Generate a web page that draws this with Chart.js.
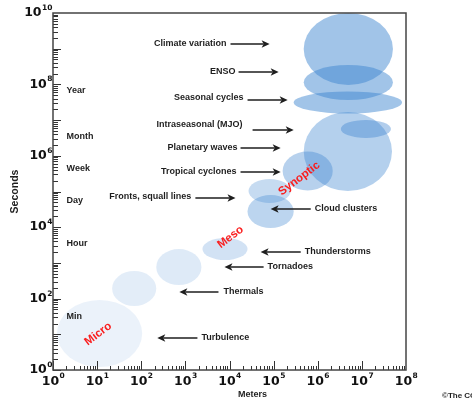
<!DOCTYPE html>
<html><head><meta charset="utf-8">
<script src="https://cdn.jsdelivr.net/npm/chart.js@4/dist/chart.umd.min.js"></script>
<style>html,body{margin:0;padding:0;background:#fff;overflow:hidden}#wrap{width:472px;height:403px}</style>
</head><body><div id="wrap"><canvas id="c" width="472" height="403"></canvas></div>
<script>
// ---- Data: space (meters) and time (seconds) ranges of each phenomenon ----
const phenomena   = ['Turbulence','Small eddies','Thermals','Thunderstorms','Fronts, squall lines','Cloud clusters','Tropical cyclones','Planetary waves','Intraseasonal (MJO)','Seasonal cycles','ENSO','Climate variation'];
const metersMin   = [1.23, 21.9, 219, 2440, 27000, 25600, 160000, 481000, 3330000, 285000, 481000, 481000];
const metersMax   = [105, 219, 2310, 25600, 243000, 285000, 2190000, 48100000, 45600000, 81100000, 50600000, 50600000];
const secondsMin  = [1.21, 62.1, 240, 1200, 47600, 9500, 107000, 103000, 3160000, 15300000, 36600000, 96400000];
const secondsMax  = [91.2, 593, 2450, 4980, 224000, 79800, 1320000, 16800000, 10100000, 63200000, 349000000, 1e10];
const fillAlpha   = [0.10, 0.14, 0.17, 0.23, 0.29, 0.34, 0.37, 0.38, 0.40, 0.48, 0.48, 0.48];

// tick labels (exponents of 10)
const xTickExp = [0,1,2,3,4,5,6,7,8];
const yTickExp = [0,2,4,6,8,10];

// annotations (log10 positions)
const annLabels  = ['Climate variation','ENSO','Seasonal cycles','Intraseasonal (MJO)','Planetary waves','Tropical cyclones','Fronts, squall lines','Cloud clusters','Thunderstorms','Tornadoes','Thermals','Turbulence'];
const annTextX   = [3.932, 4.136, 4.318, 4.295, 4.182, 4.159, 3.136, 5.932, 5.705, 4.864, 3.864, 3.364];
const annTextY   = [9.132, 8.347, 7.619, 6.863, 6.246, 5.546, 4.846, 4.510, 3.305, 2.885, 2.185, 0.896];
const annTailX   = [4.023, 4.205, 4.409, 4.523, 4.250, 4.250, 3.227, 5.841, 5.614, 4.773, 3.750, 3.273];
const annHeadX   = [4.909, 5.114, 5.318, 5.455, 5.159, 5.159, 4.136, 4.932, 4.705, 3.886, 2.864, 2.364];
const annArrowY  = [9.132, 8.347, 7.563, 6.723, 6.218, 5.546, 4.818, 4.510, 3.305, 2.885, 2.185, 0.896];

// time-unit labels
const timeLabels = ['Year','Month','Week','Day','Hour','Min'];
const timeLogY   = [7.84, 6.535, 5.63, 4.734, 3.53, 1.485];
const timeLogX   = 0.307;

// regime labels
const regimeLabels = ['Micro','Meso','Synoptic'];
const regimeLogX   = [1.023, 4.023, 5.58];
const regimeLogY   = [1.008, 3.725, 5.364];

const BASE = '59,131,207';
const TXT = '#1e1e1e';

const ellipsePlugin = {
  id: 'ellipses',
  beforeDatasetsDraw(chart) {
    const {ctx, chartArea: a, scales: {x, y}} = chart;
    ctx.save();
    ctx.beginPath(); ctx.rect(a.left, a.top, a.right - a.left, a.bottom - a.top); ctx.clip();
    for (let i = 0; i < phenomena.length; i++) {
      const x0 = x.getPixelForValue(metersMin[i]), x1 = x.getPixelForValue(metersMax[i]);
      const y0 = y.getPixelForValue(secondsMin[i]), y1 = y.getPixelForValue(secondsMax[i]);
      ctx.beginPath();
      ctx.ellipse((x0 + x1) / 2, (y0 + y1) / 2, Math.abs(x1 - x0) / 2, Math.abs(y1 - y0) / 2, 0, 0, Math.PI * 2);
      ctx.fillStyle = `rgba(${BASE},${fillAlpha[i]})`;
      ctx.fill();
    }
    ctx.restore();
  }
};

const decoPlugin = {
  id: 'deco',
  afterDraw(chart) {
    const {ctx, chartArea: a, scales: {x, y}} = chart;
    ctx.save();
    // time labels
    ctx.fillStyle = TXT;
    ctx.font = 'bold 9px "Liberation Sans", Arial, sans-serif';
    ctx.textBaseline = 'middle';
    ctx.textAlign = 'left';
    timeLabels.forEach((t, i) => ctx.fillText(t, x.getPixelForValue(10 ** timeLogX), y.getPixelForValue(10 ** timeLogY[i])));
    // annotations
    for (let i = 0; i < annLabels.length; i++) {
      const tail = x.getPixelForValue(10 ** annTailX[i]);
      const head = x.getPixelForValue(10 ** annHeadX[i]);
      const ay = y.getPixelForValue(10 ** annArrowY[i]);
      const dir = head > tail ? 1 : -1;
      ctx.strokeStyle = TXT; ctx.lineWidth = 1.6;
      ctx.beginPath(); ctx.moveTo(tail, ay); ctx.lineTo(head - dir * 6, ay); ctx.stroke();
      ctx.beginPath();
      ctx.moveTo(head, ay);
      ctx.lineTo(head - dir * 8, ay - 3.8);
      ctx.lineTo(head - dir * 6, ay);
      ctx.lineTo(head - dir * 8, ay + 3.8);
      ctx.closePath(); ctx.fill();
      ctx.textAlign = dir > 0 ? 'right' : 'left';
      ctx.fillText(annLabels[i], x.getPixelForValue(10 ** annTextX[i]), y.getPixelForValue(10 ** annTextY[i]));
    }
    // regime labels
    ctx.fillStyle = 'rgb(250,30,30)';
    ctx.font = 'bold 11.5px "Liberation Sans", Arial, sans-serif';
    ctx.textAlign = 'center';
    regimeLabels.forEach((t, i) => {
      ctx.save();
      ctx.translate(x.getPixelForValue(10 ** regimeLogX[i]), y.getPixelForValue(10 ** regimeLogY[i]));
      ctx.rotate(-37 * Math.PI / 180);
      ctx.fillText(t, 0, 0);
      ctx.restore();
    });
    // inward tick marks
    ctx.strokeStyle = '#333'; ctx.lineWidth = 1;
    for (let e = 0; e < 8; e++) for (let m = 1; m <= 9; m++) {
      const px = Math.round(x.getPixelForValue(m * 10 ** e)) + 0.5;
      const len = m === 1 ? 9 : 4;
      ctx.beginPath(); ctx.moveTo(px, a.bottom); ctx.lineTo(px, a.bottom - len); ctx.stroke();
    }
    for (let e = 0; e < 10; e++) for (let m = 1; m <= 9; m++) {
      const py = Math.round(y.getPixelForValue(m * 10 ** e)) + 0.5;
      const len = m === 1 ? 8 : 5;
      ctx.beginPath(); ctx.moveTo(a.left, py); ctx.lineTo(a.left + len, py); ctx.stroke();
    }
    // frame
    ctx.strokeStyle = '#444'; ctx.lineWidth = 1.5;
    ctx.strokeRect(a.left, a.top, a.right - a.left, a.bottom - a.top);
    // tick labels with superscript exponents
    const big = 'bold 12.5px "DejaVu Sans", sans-serif', small = 'bold 7.5px "DejaVu Sans", sans-serif';
    ctx.fillStyle = '#111';
    ctx.textAlign = 'left'; ctx.textBaseline = 'middle';
    xTickExp.forEach(e => {
      const px = x.getPixelForValue(10 ** e);
      ctx.font = big; const w1 = ctx.measureText('10').width;
      ctx.font = small; const w2 = ctx.measureText(String(e)).width;
      const s = px - (w1 + w2) / 2;
      ctx.font = big; ctx.fillText('10', s, a.bottom + 12);
      ctx.font = small; ctx.fillText(String(e), s + w1 + 0.5, a.bottom + 6);
    });
    yTickExp.forEach(e => {
      const py = y.getPixelForValue(10 ** e);
      ctx.font = big; const w1 = ctx.measureText('10').width;
      ctx.font = small; const w2 = ctx.measureText(String(e)).width;
      const s = a.left - 1 - (w1 + w2);
      ctx.font = big; ctx.fillText('10', s, py);
      ctx.font = small; ctx.fillText(String(e), s + w1 + 0.5, py - 5);
    });
    // axis titles
    ctx.fillStyle = TXT;
    ctx.font = 'bold 9px "Liberation Sans", Arial, sans-serif';
    ctx.textAlign = 'center';
    ctx.fillText('Meters', (a.left + a.right) / 2 + 23, a.bottom + 25);
    ctx.save();
    ctx.translate(15, (a.top + a.bottom) / 2);
    ctx.rotate(-Math.PI / 2);
    ctx.font = 'bold 10.5px "Liberation Sans", Arial, sans-serif';
    ctx.fillText('Seconds', 0, 0);
    ctx.restore();
    ctx.font = 'bold 8px "Liberation Sans", Arial, sans-serif';
    ctx.textAlign = 'left';
    ctx.fillText('\u00A9The COMET Program', 442, 396);
    ctx.restore();
  }
};

const centers = phenomena.map((p, i) => ({
  x: Math.sqrt(metersMin[i] * metersMax[i]),
  y: Math.sqrt(secondsMin[i] * secondsMax[i])
}));

new Chart(document.getElementById('c'), {
  type: 'scatter',
  data: { datasets: [{ label: 'Phenomena', data: centers, pointRadius: 0, pointHoverRadius: 0 }] },
  options: {
    responsive: false,
    animation: false,
    events: [],
    layout: { padding: { top: 13, right: 66, left: 0, bottom: 0 } },
    plugins: { legend: { display: false }, tooltip: { enabled: false } },
    scales: {
      x: {
        type: 'logarithmic', min: 1, max: 1e8, position: 'bottom',
        afterBuildTicks: s => { s.ticks = xTickExp.map(e => ({ value: 10 ** e })); },
        afterFit: s => { s.height = 33; },
        ticks: { display: false }, grid: { display: false }, border: { display: false }
      },
      y: {
        type: 'logarithmic', min: 1, max: 1e10, position: 'left',
        afterBuildTicks: s => { s.ticks = yTickExp.map(e => ({ value: 10 ** e })); },
        afterFit: s => { s.width = 53; },
        ticks: { display: false }, grid: { display: false }, border: { display: false }
      }
    }
  },
  plugins: [ellipsePlugin, decoPlugin]
});
</script>
</body></html>
